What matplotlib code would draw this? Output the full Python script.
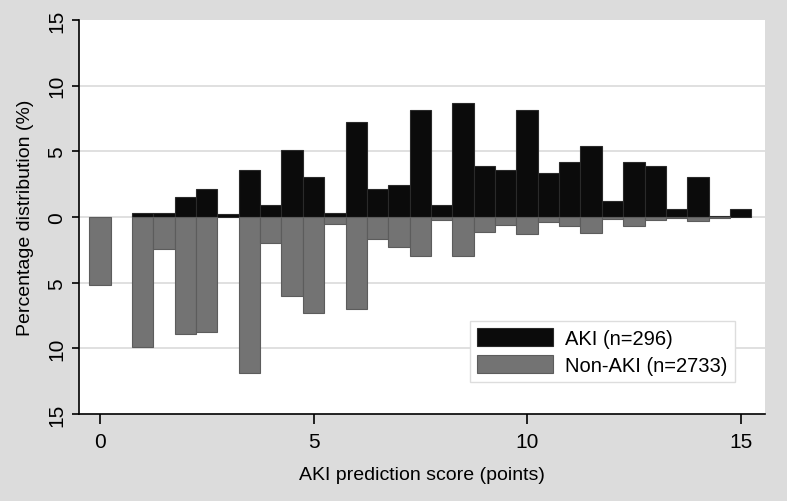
import numpy as np
import matplotlib
matplotlib.use("Agg")
import matplotlib.pyplot as plt

# AKI prediction score (half-point bins) and percentage of each group
score = np.arange(0, 15.5, 0.5)
aki = [0, 0, 0.3, 0.3, 1.52, 2.13, 0.25, 3.62, 0.91, 5.14, 3.04, 0.28, 7.24, 2.13, 2.43, 8.13,
       0.91, 8.71, 3.9, 3.62, 8.13, 3.34, 4.23, 5.44, 1.24, 4.23, 3.9, 0.61, 3.04, 0.05, 0.61]
non_aki = [5.2, 0, 9.9, 2.4, 8.94, 8.76, 0, 11.9, 1.95, 6.03, 7.27, 0.56, 7.04, 1.7, 2.25, 2.94,
           0.25, 2.99, 1.16, 0.61, 1.29, 0.4, 0.66, 1.19, 0.15, 0.68, 0.23, 0.05, 0.3, 0.05, 0]

plt.rcParams['font.family'] = ['Liberation Sans', 'DejaVu Sans']

aki = np.array(aki)
non_aki = np.array(non_aki)
up = aki > 0
down = non_aki > 0

fig = plt.figure(figsize=(7.87, 5.02), dpi=100, facecolor="#dcdcdc")
ax = fig.add_axes([0.1004, 0.1733, 0.8716, 0.7847])
ax.set_facecolor("white")

ax.bar(score[up], aki[up], width=0.5, color="#0b0b0b", edgecolor="#2a2a2a", linewidth=0.8,
       label="AKI (n=296)", zorder=3)
ax.bar(score[down], -non_aki[down], width=0.5, color="#737373", edgecolor="#5c5c5c", linewidth=0.8,
       label="Non-AKI (n=2733)", zorder=3)

ax.set_xlim(-0.49, 15.57)
ax.set_ylim(-15, 15)
yt = [-15, -10, -5, 0, 5, 10, 15]
ax.set_yticks(yt)
ax.set_yticklabels([str(abs(v)) for v in yt], rotation=90, va="center", fontsize=15)
ax.set_xticks([0, 5, 10, 15])
ax.set_xticklabels(["0", "5", "10", "15"], fontsize=15)
for v in [-10, -5, 0, 5, 10]:
    ax.axhline(v, color="#dadada", linewidth=1.2, zorder=1)

for s in ["top", "right"]:
    ax.spines[s].set_visible(False)
ax.spines["left"].set_linewidth(1.2)
ax.spines["bottom"].set_linewidth(1.2)
ax.tick_params(axis="y", length=5, width=1.2, pad=4)
ax.tick_params(axis="x", length=7, width=1.2, pad=6)

ax.set_xlabel("AKI prediction score (points)", fontsize=14, labelpad=11)
ax.set_ylabel("Percentage distribution (%)", fontsize=14, labelpad=10)

leg = ax.legend(loc="lower right", bbox_to_anchor=(0.956, 0.081), fontsize=14.5, frameon=True,
                fancybox=False, edgecolor="#dddddd", facecolor="white", framealpha=1,
                handlelength=3.8, handleheight=1.0, labelspacing=0.35, borderpad=0.35,
                handletextpad=0.6, borderaxespad=0)
leg.get_frame().set_linewidth(1.0)

fig.savefig("out.png", dpi=100, facecolor=fig.get_facecolor())
